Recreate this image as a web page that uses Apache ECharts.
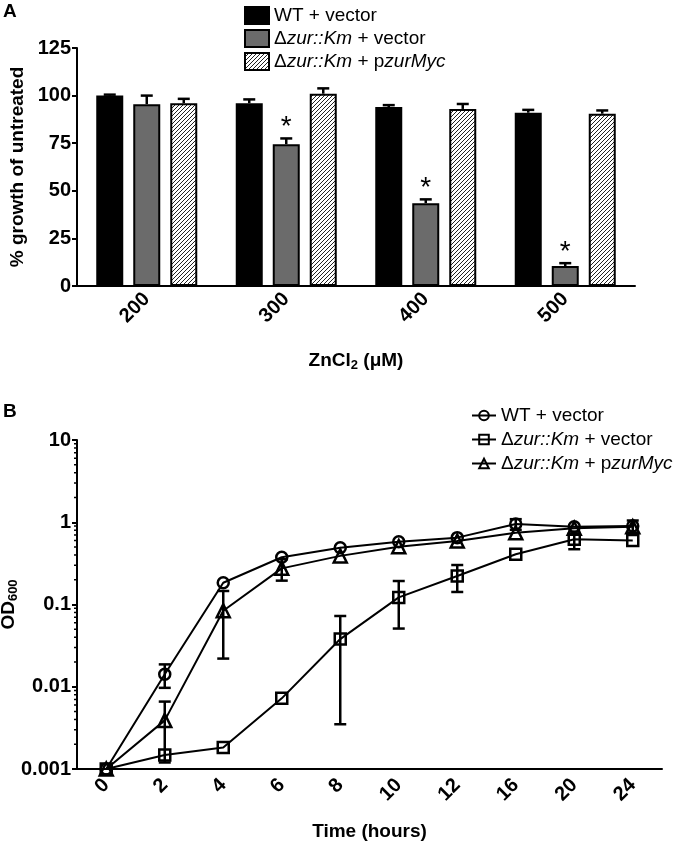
<!DOCTYPE html>
<html>
<head>
<meta charset="utf-8">
<script src="https://cdn.jsdelivr.net/npm/echarts@6/dist/echarts.min.js"></script>
<style>html,body{margin:0;padding:0;background:#fff}#c{width:680px;height:842px}</style>
</head>
<body>
<div id="c"></div>
<script>
// ---------- Data: panel A ----------
const categoriesA = ['200', '300', '400', '500'];
const wtA = [100, 96, 94, 91];
const wtErrA = [0.5, 2, 1, 1.5];
const zurA = [95.5, 74.5, 43.5, 10.5];
const zurErrA = [4.5, 3, 2, 1.5];
const compA = [96, 101, 93, 90.5];
const compErrA = [2.3, 2.8, 2.6, 1.7];
const sigA = [false, true, true, true];
const yTicksA = [0, 25, 50, 75, 100, 125];

// ---------- Data: panel B ----------
const timesB = ['0', '2', '4', '6', '8', '10', '12', '16', '20', '24'];
const wtB = [0.001, 0.0142, 0.184, 0.375, 0.49, 0.58, 0.65, 0.95, 0.88, 0.90];
const wtErrB = [0, 0.0045, 0, 0, 0, 0, 0, 0.14, 0, 0.15];
const zurB = [0.001, 0.00148, 0.00182, 0.00723, 0.038, 0.122, 0.222, 0.408, 0.62, 0.60];
const zurErrB = [0, 0, 0, 0, 0.0345, 0.071, 0.08, 0, 0.15, 0];
const compB = [0.001, 0.0039, 0.084, 0.275, 0.39, 0.505, 0.59, 0.746, 0.844, 0.88];
const compErrB = [0, 0.0027, 0.062, 0.08, 0, 0, 0, 0, 0, 0];
const yTicksB = ['0.001', '0.01', '0.1', '1', '10'];

const namesA = ['WT + vector', 'Δzur::Km + vector', 'Δzur::Km + pzurMyc'];
const namesB = namesA.map(n => n + ' ');

// ---------- styling ----------
const FONT = '"Liberation Sans", Arial, sans-serif';
const BAR_W = 27, BAR_GAP = 10;

function hatch() {
  const s = 4;
  const c = document.createElement('canvas');
  c.width = s; c.height = s;
  const g = c.getContext('2d');
  g.fillStyle = '#fff'; g.fillRect(0, 0, s, s);
  g.strokeStyle = '#222'; g.lineWidth = 1;
  g.beginPath();
  g.moveTo(-1, s + 1); g.lineTo(s + 1, -1);
  g.moveTo(-1, 1); g.lineTo(1, -1);
  g.moveTo(s - 1, s + 1); g.lineTo(s + 1, s - 1);
  g.stroke();
  return c;
}
const hatchPattern = { image: hatch(), repeat: 'repeat' };

const richLegend = {
  n: { fontFamily: FONT, fontSize: 19, color: '#000', lineHeight: 20 },
  i: { fontFamily: FONT, fontSize: 19, fontStyle: 'italic', color: '#000', lineHeight: 20 }
};
function legendFmt(name) {
  const k = name.trim();
  if (k === namesA[0]) return '{n|WT + vector}';
  if (k === namesA[1]) return '{n|Δ}{i|zur::Km}{n| + vector}';
  return '{n|Δ}{i|zur::Km}{n| + p}{i|zurMyc}';
}

function errBarRenderer(offset, sigArr, both) {
  return function (params, api) {
    const i = api.value(0), v = api.value(1), e = api.value(2);
    const children = [];
    const base = api.coord([i, v]);
    const x = base[0] + offset;
    let capTop = base[1];
    if (e > 0) {
      const top = api.coord([i, v + e]);
      capTop = top[1];
      let y2 = base[1];
      if (both) y2 = api.coord([i, Math.max(v - e, 1e-6)])[1];
      children.push({ type: 'line', shape: { x1: x, y1: top[1], x2: x, y2: y2 }, style: { stroke: '#000', lineWidth: 2.5 } });
      children.push({ type: 'line', shape: { x1: x - 6, y1: top[1], x2: x + 6, y2: top[1] }, style: { stroke: '#000', lineWidth: 2.5 } });
      if (both) children.push({ type: 'line', shape: { x1: x - 6, y1: y2, x2: x + 6, y2: y2 }, style: { stroke: '#000', lineWidth: 2.5 } });
    }
    if (sigArr && sigArr[i]) {
      children.push({ type: 'text', style: { text: '*', x: x, y: capTop - 11, align: 'center', verticalAlign: 'middle', fontSize: 28, fontFamily: FONT, fill: '#000' } });
    }
    return { type: 'group', children: children };
  };
}

const barDefs = [
  { name: namesA[0], vals: wtA, errs: wtErrA, color: '#000', sig: null },
  { name: namesA[1], vals: zurA, errs: zurErrA, color: '#6b6b6b', sig: sigA },
  { name: namesA[2], vals: compA, errs: compErrA, color: hatchPattern, sig: null }
];
const lineDefs = [
  { name: namesB[0], vals: wtB, errs: wtErrB, symbol: 'circle' },
  { name: namesB[1], vals: zurB, errs: zurErrB, symbol: 'rect' },
  { name: namesB[2], vals: compB, errs: compErrB, symbol: 'triangle' }
];

const series = [];
barDefs.forEach((d, k) => {
  series.push({
    type: 'bar', name: d.name, xAxisIndex: 0, yAxisIndex: 0,
    data: d.vals, barWidth: BAR_W, barGap: (BAR_GAP / BAR_W * 100) + '%',
    itemStyle: { color: d.color, borderColor: '#000', borderWidth: 2 },
    emphasis: { disabled: true }, silent: true, z: 2
  });
});
barDefs.forEach((d, k) => {
  series.push({
    type: 'custom', name: 'errA' + k, xAxisIndex: 0, yAxisIndex: 0,
    data: d.vals.map((v, i) => [i, v, d.errs[i]]),
    renderItem: errBarRenderer((k - 1) * (BAR_W + BAR_GAP), d.sig, false),
    silent: true, z: 3
  });
});
lineDefs.forEach((d, k) => {
  series.push({
    type: 'line', name: d.name, xAxisIndex: 1, yAxisIndex: 1,
    data: d.vals, symbol: d.symbol, symbolSize: d.symbol === 'triangle' ? 13 : 11,
    lineStyle: { color: '#000', width: 2 },
    itemStyle: { color: 'rgba(255,255,255,0)', borderColor: '#000', borderWidth: 2.5 },
    emphasis: { disabled: true }, silent: true, z: 4, animation: false
  });
  series.push({
    type: 'custom', name: 'errB' + k, xAxisIndex: 1, yAxisIndex: 1,
    data: d.vals.map((v, i) => [i, v, d.errs[i]]),
    renderItem: errBarRenderer(0, null, true),
    silent: true, z: 5
  });
});
// minor ticks for log axis (axis decoration)
const minorTicks = [];
[0.001, 0.01, 0.1, 1].forEach(dec => { for (let m = 2; m <= 9; m++) minorTicks.push(m * dec); });
series.push({
  type: 'custom', name: 'minorTicks', xAxisIndex: 1, yAxisIndex: 1,
  data: minorTicks.map(v => [0, v]),
  renderItem: function (params, api) {
    const p = api.coord([0, api.value(1)]);
    const x0 = params.coordSys.x;
    return { type: 'line', shape: { x1: x0 - 3, y1: p[1], x2: x0, y2: p[1] }, style: { stroke: '#000', lineWidth: 1.5 } };
  },
  silent: true, z: 1
});

const axisLabelStyle = { fontFamily: FONT, fontSize: 20, fontWeight: 'bold', color: '#000' };
const nameStyle = { fontFamily: FONT, fontSize: 19, fontWeight: 'bold', color: '#000' };

const option = {
  animation: false,
  backgroundColor: '#fff',
  graphic: [
    { type: 'text', left: 3, top: 2, style: { text: 'A', fontFamily: FONT, fontSize: 19, fontWeight: 'bold', fill: '#000' } },
    { type: 'text', left: 3, top: 402, style: { text: 'B', fontFamily: FONT, fontSize: 19, fontWeight: 'bold', fill: '#000' } }
  ],
  legend: [
    {
      data: namesA.map(n => ({ name: n, icon: 'rect' })), orient: 'vertical', left: 239, top: 1, itemWidth: 24, itemHeight: 17, itemGap: 4,
      formatter: legendFmt, textStyle: { rich: richLegend }, selectedMode: false
    },
    {
      data: namesB, orient: 'vertical', left: 466, top: 401, itemWidth: 24, itemHeight: 12, itemGap: 5,
      formatter: legendFmt, textStyle: { rich: richLegend }, selectedMode: false
    }
  ],
  grid: [
    { left: 77, right: 45, top: 48, bottom: 556, containLabel: false, outerBoundsMode: 'none' },
    { left: 77, right: 18, top: 440, bottom: 73, containLabel: false, outerBoundsMode: 'none' }
  ],
  xAxis: [
    {
      type: 'category', gridIndex: 0, data: categoriesA,
      axisLine: { lineStyle: { color: '#000', width: 2 } },
      axisTick: { alignWithLabel: true, length: 6, lineStyle: { color: '#000', width: 2 } },
      axisLabel: Object.assign({ rotate: 45, margin: 10 }, axisLabelStyle),
      name: 'ZnCl{s|2} (μM)', nameLocation: 'middle', nameGap: 64, nameMoveOverlap: false,
      nameTextStyle: Object.assign({ rich: { s: { fontFamily: FONT, fontSize: 13, fontWeight: 'bold', color: '#000', padding: [9, 0, 0, 0] } } }, nameStyle)
    },
    {
      type: 'category', gridIndex: 1, data: timesB,
      axisLine: { lineStyle: { color: '#000', width: 2 } },
      axisTick: { alignWithLabel: true, length: 6, lineStyle: { color: '#000', width: 2 } },
      axisLabel: Object.assign({ rotate: 45, margin: 13 }, axisLabelStyle),
      name: 'Time (hours)', nameLocation: 'middle', nameGap: 53, nameMoveOverlap: false, nameTextStyle: nameStyle
    }
  ],
  yAxis: [
    {
      type: 'value', gridIndex: 0, min: yTicksA[0], max: yTicksA[yTicksA.length - 1], interval: 25,
      axisLine: { show: true, lineStyle: { color: '#000', width: 2 } },
      axisTick: { show: true, length: 5, lineStyle: { color: '#000', width: 2 } },
      axisLabel: Object.assign({ margin: 6 }, axisLabelStyle),
      splitLine: { show: false },
      name: '% growth of untreated', nameLocation: 'middle', nameGap: 50, nameMoveOverlap: false, nameTextStyle: nameStyle
    },
    {
      type: 'log', gridIndex: 1, logBase: 10, min: 0.001, max: 10,
      axisLine: { show: true, lineStyle: { color: '#000', width: 2 } },
      axisTick: { show: true, length: 5, lineStyle: { color: '#000', width: 2 } },
      axisLabel: Object.assign({ margin: 6, formatter: function (v) {
        const idx = Math.round(Math.log10(v)) + 3; return yTicksB[idx] !== undefined ? yTicksB[idx] : '';
      } }, axisLabelStyle),
      splitLine: { show: false },
      name: 'OD{s|600}', nameLocation: 'middle', nameGap: 57, nameMoveOverlap: false,
      nameTextStyle: Object.assign({ rich: { s: { fontFamily: FONT, fontSize: 13, fontWeight: 'bold', color: '#000', padding: [9, 0, 0, 0] } } }, nameStyle)
    }
  ],
  series: series
};

const chart = echarts.init(document.getElementById('c'), null, { renderer: 'canvas' });
chart.setOption(option);
</script>
</body>
</html>
